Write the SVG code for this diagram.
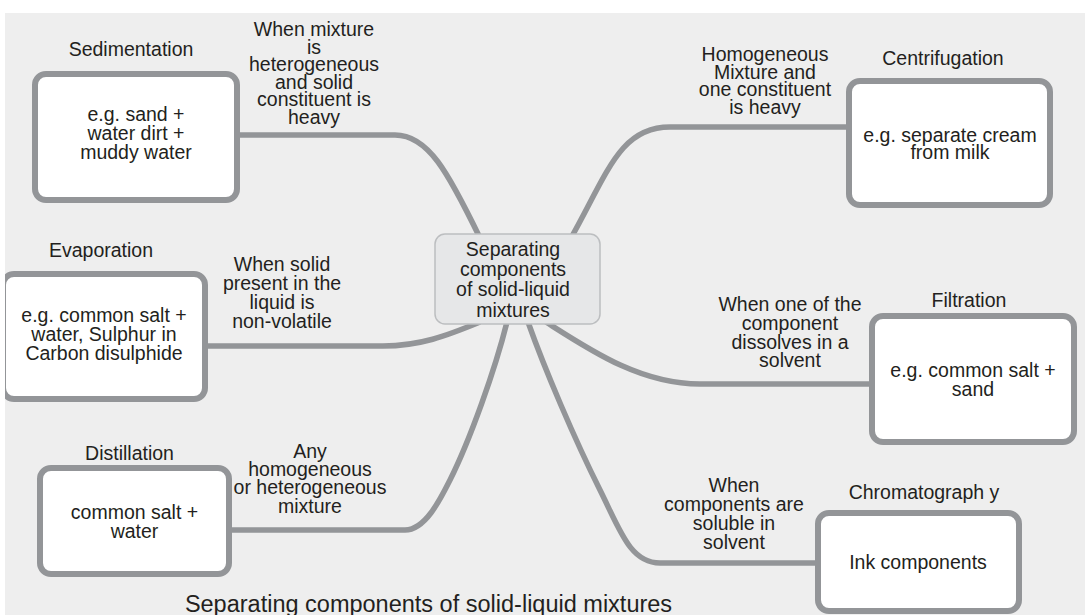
<svg xmlns="http://www.w3.org/2000/svg" width="1085" height="615" viewBox="0 0 1085 615">
<style>
text{font-family:"Liberation Sans",Arial,Helvetica,sans-serif;font-size:19.5px;fill:#231f20;text-anchor:middle}
.box{fill:#ffffff;stroke:#939598;stroke-width:6}
.conn{fill:none;stroke:#939598;stroke-width:5.5;stroke-linecap:butt}
.title{font-size:23.5px}
</style>
<defs>
<clipPath id="clipL"><rect x="5" y="0" width="1080" height="615"/></clipPath>
</defs>
<rect x="0" y="0" width="1085" height="615" fill="#ffffff"/>
<rect x="5" y="13" width="1080" height="602" fill="#eeeeee"/>

<g id="connectors">
<path class="conn" d="M237,135 H395 C428,135 448,172 480,238"/>
<path class="conn" d="M571,238 C608,172 620,127 670,127 H847"/>
<path class="conn" d="M206,346 H383 C420,346 446,336 480,322"/>
<path class="conn" d="M229,530 H405 C425,530 440,500 450,480 C470,440 495,370 507,322"/>
<path class="conn" d="M528,322 C545,370 575,440 600,490 C620,530 630,563 660,563 H816"/>
<path class="conn" d="M546,322 C590,350 640,384 700,384 H871"/>
</g>

<g id="center">
<rect x="435" y="234" width="165" height="90" rx="10" fill="#e6e7e8" stroke="#bcbec0" stroke-width="1.5"/>
<text x="513" y="256">Separating</text>
<text x="513" y="276">components</text>
<text x="513" y="296">of solid-liquid</text>
<text x="513" y="316.5">mixtures</text>
</g>

<g id="sedimentation">
<text x="131" y="56">Sedimentation</text>
<rect class="box" x="35" y="74" width="202" height="126" rx="11"/>
<text x="136" y="121">e.g. sand +</text>
<text x="136" y="140">water dirt +</text>
<text x="136" y="159">muddy water</text>
<text x="314" y="36">When mixture</text>
<text x="314" y="53.5">is</text>
<text x="314" y="71">heterogeneous</text>
<text x="314" y="88.5">and solid</text>
<text x="314" y="106">constituent is</text>
<text x="314" y="123.5">heavy</text>
</g>

<g id="centrifugation">
<text x="943" y="65">Centrifugation</text>
<rect class="box" x="849" y="81" width="201" height="124" rx="11"/>
<text x="950" y="141.5">e.g. separate cream</text>
<text x="950" y="159">from milk</text>
<text x="765" y="61">Homogeneous</text>
<text x="765" y="78.5">Mixture and</text>
<text x="765" y="96">one constituent</text>
<text x="765" y="113.5">is heavy</text>
</g>

<g id="evaporation">
<text x="101" y="257">Evaporation</text>
<rect class="box" x="3" y="274" width="202" height="125" rx="11" clip-path="url(#clipL)"/>
<text x="104" y="322">e.g. common salt +</text>
<text x="104" y="341">water, Sulphur in</text>
<text x="104" y="359.5">Carbon disulphide</text>
<text x="282" y="271">When solid</text>
<text x="282" y="290">present in the</text>
<text x="282" y="309">liquid is</text>
<text x="282" y="328">non-volatile</text>
</g>

<g id="distillation">
<text x="129.5" y="459.5">Distillation</text>
<rect class="box" x="40" y="468" width="189" height="106" rx="11"/>
<text x="134.5" y="518.5">common salt +</text>
<text x="134.5" y="537.5">water</text>
<text x="310" y="458">Any</text>
<text x="310" y="476">homogeneous</text>
<text x="310" y="494">or heterogeneous</text>
<text x="310" y="512.5">mixture</text>
</g>

<g id="filtration">
<text x="969" y="307">Filtration</text>
<rect class="box" x="872" y="316" width="202" height="126" rx="11"/>
<text x="973" y="377">e.g. common salt +</text>
<text x="973" y="395.5">sand</text>
<text x="790" y="311">When one of the</text>
<text x="790" y="329.5">component</text>
<text x="790" y="348.5">dissolves in a</text>
<text x="790" y="367">solvent</text>
</g>

<g id="chromatography">
<text x="924" y="498.5">Chromatograph y</text>
<rect class="box" x="818" y="513" width="201" height="98" rx="11"/>
<text x="918" y="568.5">Ink components</text>
<text x="734" y="492">When</text>
<text x="734" y="510.5">components are</text>
<text x="734" y="530">soluble in</text>
<text x="734" y="549">solvent</text>
</g>

<g id="caption">
<text class="title" x="428.5" y="611.5">Separating components of solid-liquid mixtures</text>
</g>
</svg>
